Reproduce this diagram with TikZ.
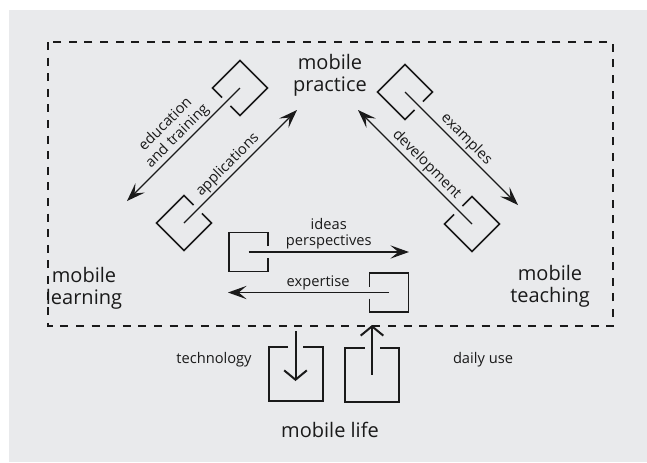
\documentclass[tikz,border=0pt]{standalone}
\usepackage{fontspec}
\setmainfont{Open Sans}
\usetikzlibrary{arrows.meta}
\definecolor{bg}{HTML}{E9EAEC}
\definecolor{ink}{HTML}{1A1A1A}
\tikzset{
  bracket/.pic={
    \draw[ink, line width=1.2pt] (19.5,-6) -- (19.5,-19.5) -- (-19.5,-19.5) -- (-19.5,19.5) -- (19.5,19.5) -- (19.5,6);
  },
  bigbox/.pic={
    \draw[ink, line width=1.5pt] (27,-7.5) -- (27,-27) -- (-27,-27) -- (-27,27) -- (27,27) -- (27,7.5);
  },
  flow/.style={draw=ink, line width=1pt, -{Stealth[length=14pt,width=10pt,inset=6pt]}},
  lifeflow/.style={draw=ink, line width=1.5pt, -{Straight Barb[length=7pt,width=17pt]}},
  biglabel/.style={font=\fontsize{15}{16.5}\selectfont, align=center, text=ink, inner sep=0pt},
  lifelabel/.style={font=\fontsize{15}{18}\selectfont, align=center, text=ink, inner sep=0pt},
  smalllabel/.style={font=\fontsize{11}{12}\selectfont, align=center, text=ink, inner sep=1.5pt},
}
\begin{document}
\begin{tikzpicture}[x=0.75pt,y=-0.75pt]
\useasboundingbox (0,0) rectangle (647,462);
\fill[white] (0,0) rectangle (647,462);
\fill[bg] (9,10) rectangle (647,462);
% dashed frame
\draw[ink, line width=1.5pt, dash pattern=on 6pt off 5.7pt] (48,42) rectangle (613,326);

% labels
\node[biglabel] (practice) at (330,75) {mobile\\practice};
\node[biglabel] (learning) at (84,288) {mobile\\learning};
\node[biglabel] (teaching) at (550,286) {mobile\\teaching};
\node[lifelabel] (life) at (330,430) {mobile life};
\node[smalllabel] (tech) at (214,360) {technology};
\node[smalllabel] (daily) at (483,360) {daily use};

% bracket anchors
\coordinate (edu) at (240,88);
\coordinate (eduend) at (127,201);
\coordinate (app) at (184,223);
\coordinate (append) at (297,110);
\coordinate (ex) at (405,92);
\coordinate (exend) at (518,205);
\coordinate (dev) at (472,224);
\coordinate (devend) at (358,110);
\coordinate (idea) at (248.5,252);
\coordinate (ideaend) at (409,252);
\coordinate (expt) at (389,292.5);
\coordinate (exptend) at (228,292.5);
\coordinate (techbox) at (295.5,373.5);
\coordinate (techtop) at (295.5,331);
\coordinate (techend) at (295.5,381);
\coordinate (dailybox) at (372,374.5);
\coordinate (dailyend) at (372,325);

\pic[rotate=225] at (edu) {bracket};
\pic[rotate=45] at (app) {bracket};
\pic[rotate=-45] at (ex) {bracket};
\pic[rotate=135] at (dev) {bracket};
\pic at (idea) {bracket};
\pic[rotate=180] at (expt) {bracket};
\pic[rotate=90] at (techbox) {bigbox};
\pic[rotate=90] at (dailybox) {bigbox};

\draw[flow] (edu) -- node[smalllabel, sloped, above, pos=0.49, font=\fontsize{11}{12.5}\selectfont] {education\\and training} (eduend);
\draw[flow] (app) -- node[smalllabel, sloped, above, pos=0.45] {applications} (append);
\draw[flow] (ex) -- node[smalllabel, sloped, above, pos=0.48] {examples} (exend);
\draw[flow] (dev) -- node[smalllabel, sloped, above, pos=0.46] {development} (devend);
\draw[flow] (idea) -- node[smalllabel, above, pos=0.5, font=\fontsize{11}{12}\selectfont] {ideas\\perspectives} (ideaend);
\draw[flow] (expt) -- node[smalllabel, above, pos=0.44] {expertise} (exptend);
\draw[lifeflow] (techtop) -- (techend);
\draw[lifeflow] (dailybox) -- (dailyend);
\end{tikzpicture}
\end{document}
